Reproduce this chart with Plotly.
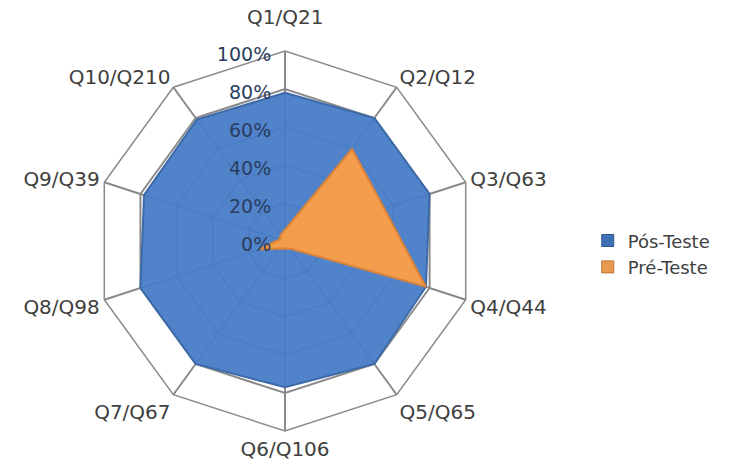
import plotly.graph_objects as go

categories = ["Q1/Q21", "Q2/Q12", "Q3/Q63", "Q4/Q44", "Q5/Q65",
              "Q6/Q106", "Q7/Q67", "Q8/Q98", "Q9/Q39", "Q10/Q210"]
pos_teste = [0.78, 0.80, 0.80, 0.78, 0.80, 0.77, 0.80, 0.80, 0.78, 0.79]
pre_teste = [0.06, 0.60, 0.55, 0.78, 0.05, 0.04, 0.05, 0.14, 0.03, 0.04]
radial_ticks = [0, 0.2, 0.4, 0.6, 0.8, 1.0]
radial_labels = ["0%", "20%", "40%", "60%", "80%", "100%"]
# top category label is drawn as an annotation a little higher (as in Excel)
angular_labels = [""] + categories[1:]

FONT = "DejaVu Sans, Liberation Sans, sans-serif"
W, H = 744, 470
dom_x = [95 / W, 475 / W]
dom_y = [1 - 431 / H, 1 - 51 / H]

fig = go.Figure()
fig.add_trace(go.Scatterpolar(
    r=pos_teste + pos_teste[:1], theta=categories + categories[:1],
    name="Pós-Teste", mode="lines", fill="toself",
    fillcolor="rgba(72,124,200,0.95)",
    line=dict(color="#3c69a8", width=2),
    showlegend=False,
))
fig.add_trace(go.Scatterpolar(
    r=pre_teste + pre_teste[:1], theta=categories + categories[:1],
    name="Pré-Teste", mode="lines", fill="toself",
    fillcolor="rgba(249,158,72,0.97)",
    line=dict(color="#d9823a", width=2),
    showlegend=False,
))
# legend entries with square swatches
fig.add_trace(go.Scatterpolar(
    r=[None], theta=[categories[0]], name="Pós-Teste", mode="markers",
    marker=dict(symbol="square", size=12, color="#3f6fb5",
                line=dict(color="#2f5790", width=1)),
))
fig.add_trace(go.Scatterpolar(
    r=[None], theta=[categories[0]], name="Pré-Teste", mode="markers",
    marker=dict(symbol="square", size=12, color="#e89a50",
                line=dict(color="#b97636", width=1)),
))

fig.add_annotation(
    x=(dom_x[0] + dom_x[1]) / 2, y=dom_y[1], xref="paper", yref="paper",
    xanchor="center", yanchor="bottom", yshift=20, showarrow=False,
    text=categories[0], font=dict(size=20, color="#404040", family=FONT),
)

fig.update_layout(
    width=W, height=H,
    margin=dict(l=0, r=0, t=0, b=0),
    paper_bgcolor="white",
    font=dict(family=FONT, color="#404040"),
    polar=dict(
        domain=dict(x=dom_x, y=dom_y),
        bgcolor="white",
        gridshape="linear",
        angularaxis=dict(
            rotation=90, direction="clockwise",
            tickvals=categories, ticktext=angular_labels,
            linecolor="#8a8a8a", linewidth=1.5,
            gridcolor="#8a8a8a", gridwidth=1.5,
            tickfont=dict(size=20, color="#404040", family=FONT),
            ticks="", layer="below traces",
        ),
        radialaxis=dict(
            range=[0, 1], tickvals=radial_ticks, ticktext=radial_labels,
            angle=90, side="counterclockwise",
            showline=False, ticks="",
            gridcolor="#8a8a8a", gridwidth=1.5,
            tickfont=dict(size=19, color="#2a3d60", family=FONT),
            layer="above traces",
        ),
    ),
    legend=dict(
        x=0.79, y=0.46, xanchor="left", yanchor="middle",
        font=dict(size=18, color="#404040", family=FONT),
        itemwidth=30, tracegroupgap=4,
    ),
)

fig.write_html("out.html")
